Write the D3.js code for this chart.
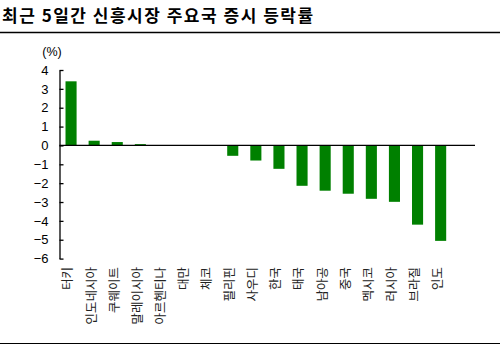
<!DOCTYPE html>
<html>
<head>
<meta charset="utf-8">
<script src="https://cdn.jsdelivr.net/npm/d3@7"></script>
<style>
  html, body { margin: 0; padding: 0; background: #fff; }
  svg { display: block; }
</style>
</head>
<body>
<svg id="chart" width="500" height="345"></svg>
<script>
// 최근 5일간 신흥시장 주요국 증시 등락률 (%)
const countries = ["터키", "인도네시아", "쿠웨이트", "말레이시아", "아르헨티나", "대만", "체코",
  "필리핀", "사우디", "한국", "태국", "남아공", "중국", "멕시코", "러시아", "브라질", "인도"];
const changes = [3.4, 0.25, 0.18, 0.07, 0, 0, 0,
  -0.55, -0.8, -1.24, -2.14, -2.4, -2.56, -2.83, -2.99, -4.2, -5.06];
const yTicks = [4, 3, 2, 1, 0, -1, -2, -3, -4, -5, -6];

const svg = d3.select("#chart");
const W = 500;

// title and rules
svg.append("text")
  .attr("x", 2).attr("y", 22)
  .attr("font-family", "'Noto Sans CJK KR', sans-serif")
  .attr("font-weight", "bold")
  .attr("font-size", 17)
  .attr("letter-spacing", 1.5)
  .attr("fill", "#000")
  .text("최근 5일간 신흥시장 주요국 증시 등락률");

svg.append("line")
  .attr("x1", 0).attr("x2", W).attr("y1", 32.5).attr("y2", 32.5)
  .attr("stroke", "#000").attr("stroke-width", 1.5);

svg.append("line")
  .attr("x1", 0).attr("x2", W).attr("y1", 343.5).attr("y2", 343.5)
  .attr("stroke", "#000").attr("stroke-width", 1);

// scales
const left = 59.5;
const step = 23.1;
const x = d3.scaleBand()
  .domain(countries)
  .range([left, left + step * countries.length])
  .paddingInner(0.52)
  .paddingOuter(0.26);

const y = d3.scaleLinear().domain([-6, 4]).range([258.6, 70]);

// y axis with inward ticks
const yAxis = svg.append("g")
  .attr("transform", `translate(${left},0)`)
  .call(d3.axisLeft(y).tickValues(yTicks).tickSizeInner(-4).tickSizeOuter(0).tickPadding(11)
    .tickFormat(d3.format("d")));
yAxis.select(".domain").attr("stroke", "#000").attr("stroke-width", 1.3);
yAxis.selectAll(".tick line").attr("stroke", "#000").attr("stroke-width", 1.3);
yAxis.selectAll(".tick text")
  .attr("font-family", "'Liberation Sans', Arial, sans-serif")
  .attr("font-size", 13)
  .attr("fill", "#000");

svg.append("text")
  .attr("x", 52).attr("y", 56)
  .attr("text-anchor", "middle")
  .attr("font-family", "'Liberation Sans', Arial, sans-serif")
  .attr("font-size", 12.5)
  .attr("fill", "#000")
  .text("(%)");

// bars
svg.append("g").selectAll("rect")
  .data(countries)
  .join("rect")
  .attr("x", d => x(d))
  .attr("width", x.bandwidth())
  .attr("y", (d, i) => y(Math.max(0, changes[i])))
  .attr("height", (d, i) => Math.abs(y(changes[i]) - y(0)))
  .attr("fill", "#008000");

// zero line
svg.append("line")
  .attr("x1", left).attr("x2", 475)
  .attr("y1", y(0)).attr("y2", y(0))
  .attr("stroke", "#000").attr("stroke-width", 1.3);

// category labels, rotated
svg.append("g").selectAll("text")
  .data(countries)
  .join("text")
  .attr("transform", d => `translate(${x(d) + x.bandwidth() / 2 - 3},267) rotate(-90)`)
  .attr("dy", "0.35em")
  .attr("text-anchor", "end")
  .attr("font-family", "'Noto Sans CJK KR', sans-serif")
  .attr("font-size", 12.5)
  .attr("fill", "#222")
  .text(d => d);
</script>
</body>
</html>
